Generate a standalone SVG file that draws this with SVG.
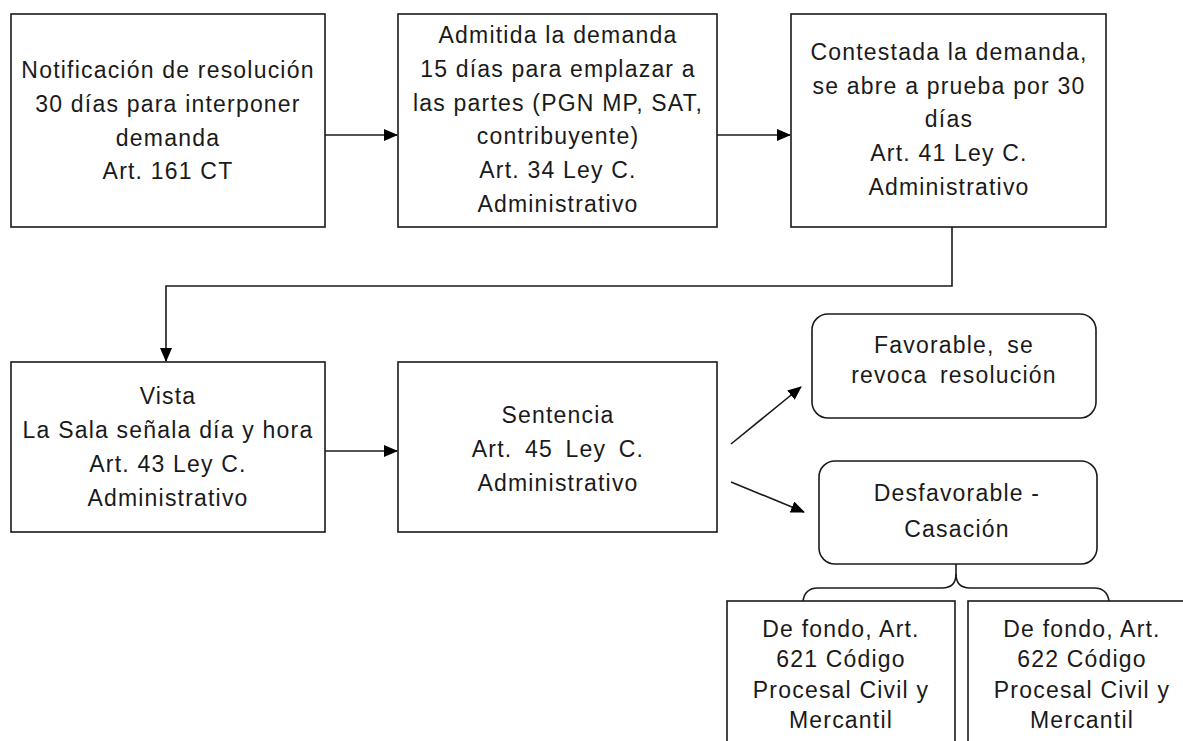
<svg xmlns="http://www.w3.org/2000/svg" width="1183" height="741" viewBox="0 0 1183 741">
<style>
  .box{fill:#fff;stroke:#1a1a1a;stroke-width:1.6}
  .t{font-family:"Liberation Sans",Arial,sans-serif;font-size:23px;letter-spacing:1.2px;fill:#1a1a1a;text-anchor:middle}
  .w{word-spacing:5px}
  .c{fill:none;stroke:#1a1a1a;stroke-width:1.6}
</style>
<defs>
  <marker id="ah" markerUnits="userSpaceOnUse" markerWidth="14" markerHeight="12" refX="13" refY="6" orient="auto">
    <path d="M0,0 L14,6 L0,12 Z" fill="#000"/>
  </marker>
</defs>
<rect width="1183" height="741" fill="#fff"/>

<g id="connectors">
  <path class="c" d="M325,135 H397" marker-end="url(#ah)"/>
  <path class="c" d="M717,135 H790" marker-end="url(#ah)"/>
  <path class="c" d="M952,227 V286 H166 V361" marker-end="url(#ah)"/>
  <path class="c" d="M325,451 H397" marker-end="url(#ah)"/>
  <path class="c" d="M731,444 L801,387" marker-end="url(#ah)"/>
  <path class="c" d="M731,482 L804,512" marker-end="url(#ah)"/>
  <path class="c" d="M956,564 V574 Q956,588 942,588 H818 Q805,588 803,601"/>
  <path class="c" d="M956,574 Q956,588 970,588 H1094 Q1107,588 1109,601"/>
</g>

<g id="n1">
  <rect class="box" x="11" y="14" width="314" height="213"/>
  <text class="t" x="168" y="78">Notificación de resolución</text>
  <text class="t" x="168" y="112">30 días para interponer</text>
  <text class="t" x="168" y="146">demanda</text>
  <text class="t" x="168" y="179">Art. 161 CT</text>
</g>

<g id="n2">
  <rect class="box" x="398" y="14" width="319" height="213"/>
  <text class="t" x="558" y="43">Admitida la demanda</text>
  <text class="t" x="558" y="77">15 días para emplazar a</text>
  <text class="t" x="558" y="111">las partes (PGN MP, SAT,</text>
  <text class="t" x="558" y="144">contribuyente)</text>
  <text class="t" x="558" y="178">Art. 34 Ley C.</text>
  <text class="t" x="558" y="212">Administrativo</text>
</g>

<g id="n3">
  <rect class="box" x="791" y="14" width="315" height="213"/>
  <text class="t" x="949" y="60">Contestada la demanda,</text>
  <text class="t" x="949" y="94">se abre a prueba por 30</text>
  <text class="t" x="949" y="127">días</text>
  <text class="t" x="949" y="161">Art. 41 Ley C.</text>
  <text class="t" x="949" y="195">Administrativo</text>
</g>

<g id="n4">
  <rect class="box" x="11" y="362" width="314" height="170"/>
  <text class="t" x="168" y="404">Vista</text>
  <text class="t" x="168" y="438">La Sala señala día y hora</text>
  <text class="t" x="168" y="472">Art. 43 Ley C.</text>
  <text class="t" x="168" y="506">Administrativo</text>
</g>

<g id="n5">
  <rect class="box" x="398" y="362" width="319" height="170"/>
  <text class="t" x="558" y="423">Sentencia</text>
  <text class="t w" x="558" y="457">Art. 45 Ley C.</text>
  <text class="t" x="558" y="491">Administrativo</text>
</g>

<g id="n6">
  <rect class="box" x="812" y="314" width="284" height="104" rx="16" ry="16"/>
  <text class="t w" x="954" y="353">Favorable, se</text>
  <text class="t w" x="954" y="383">revoca resolución</text>
</g>

<g id="n7">
  <rect class="box" x="819" y="461" width="278" height="103" rx="16" ry="16"/>
  <text class="t" x="957" y="501">Desfavorable -</text>
  <text class="t" x="957" y="537">Casación</text>
</g>

<g id="n8">
  <rect class="box" x="727" y="601" width="228" height="170"/>
  <text class="t" x="841" y="637">De fondo, Art.</text>
  <text class="t" x="841" y="667">621 Código</text>
  <text class="t" x="841" y="698">Procesal Civil y</text>
  <text class="t" x="841" y="728">Mercantil</text>
</g>

<g id="n9">
  <rect class="box" x="968" y="601" width="228" height="170"/>
  <text class="t" x="1082" y="637">De fondo, Art.</text>
  <text class="t" x="1082" y="667">622 Código</text>
  <text class="t" x="1082" y="698">Procesal Civil y</text>
  <text class="t" x="1082" y="728">Mercantil</text>
</g>
</svg>
